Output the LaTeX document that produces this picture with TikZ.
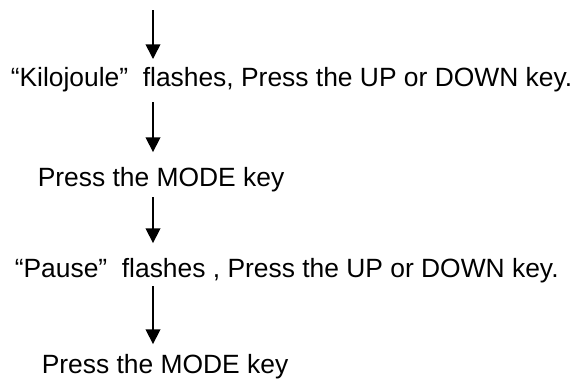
\documentclass[tikz,border=0pt]{standalone}
\usepackage{fontspec}
\setmainfont{Liberation Sans}
\usetikzlibrary{arrows.meta}

\begin{document}
\begin{tikzpicture}[x=0.75pt,y=-0.75pt,line width=1.2pt]
            \tikzstyle{steptext}=[anchor=base west,inner sep=0pt,font=\fontsize{19.8}{24}\selectfont]
            \tikzstyle{flow}=[-{Triangle[length=11pt,width=11pt]}]
                \useasboundingbox (0,0) rectangle (580,379);
                \coordinate (S-0) at (153,10);
                \node[steptext] (S-1) at (10,86){“Kilojoule”~ flashes, Press the UP or DOWN key.};
                \node[steptext] (S-2) at (37,186){Press the MODE key};
                \node[steptext] (S-3) at (14,277){“Pause”~ flashes , Press the UP or DOWN key.};
                \node[steptext] (S-4) at (41,373){Press the MODE key};

                \draw[flow,shorten >=5.3pt] (S-0) -- (S-1.north -| S-0);
                \foreach \from/\to/\a/\b in {1/2/10/14, 2/3/5/14, 3/4/3/9}
                    \draw[flow,shorten <=\a*0.75pt,shorten >=\b*0.75pt] (S-\from.south -| S-0) -- (S-\to.north -| S-0);
        \end{tikzpicture}
\end{document}
